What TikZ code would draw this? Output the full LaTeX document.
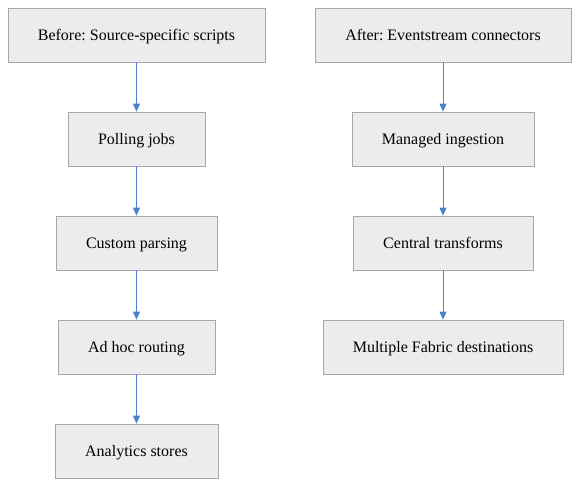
\documentclass[tikz,border=0pt]{standalone}
\usepackage{fontspec}
\setmainfont{Liberation Serif}
\usetikzlibrary{arrows.meta}
\definecolor{boxfill}{HTML}{ECECEC}
\definecolor{boxline}{HTML}{A8A8A8}
\definecolor{flow}{HTML}{4A80D6}
\tikzset{stage/.style={draw=boxline,fill=boxfill,line width=0.8pt,minimum height=54pt,inner xsep=0pt,text height=14pt,text depth=3pt}}
\frenchspacing
\begin{document}
\begin{tikzpicture}[x=1pt,y=-1pt,>={Triangle[length=8pt,width=7pt]},font=\fontsize{16}{19}\selectfont]
\useasboundingbox (0,0) rectangle (579,486);
\node[stage,minimum width=257pt] (b1) at (136.5,35) {Before: Source-specific scripts};
\node[stage,minimum width=137pt] (b2) at (136.5,139) {Polling jobs};
\node[stage,minimum width=161pt] (b3) at (136.5,243) {Custom parsing};
\node[stage,minimum width=157pt] (b4) at (136.5,347) {Ad hoc routing};
\node[stage,minimum width=163pt] (b5) at (136.5,451) {Analytics stores};
\node[stage,minimum width=256pt] (a1) at (443,35) {After: Eventstream connectors};
\node[stage,minimum width=182pt] (a2) at (443,139) {Managed ingestion};
\node[stage,minimum width=180pt] (a3) at (443,243) {Central transforms};
\node[stage,minimum width=240pt] (a4) at (443,347) {Multiple Fabric destinations};
\foreach \u/\v in {b1/b2,b2/b3,b3/b4,b4/b5,a1/a2,a2/a3,a3/a4}
  {\draw[->,flow,line width=0.9pt] (\u)--(\v);}
\end{tikzpicture}
\end{document}
